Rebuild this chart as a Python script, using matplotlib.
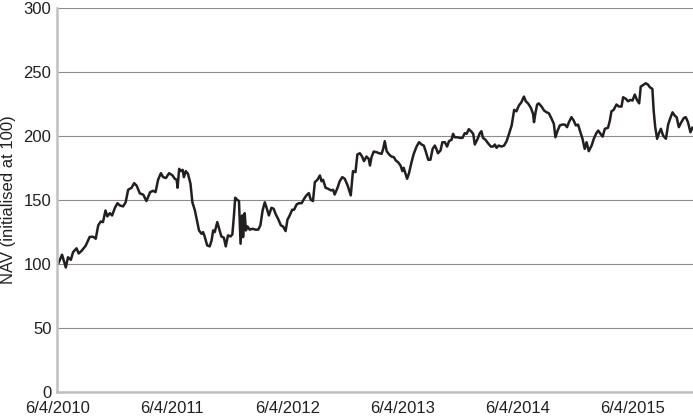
import datetime as dt
import matplotlib.pyplot as plt

# data (days after 6/4/2010, NAV)
start = dt.date(2010, 6, 4)
days = [3, 15, 27, 34, 43, 50, 61, 68, 77, 90, 103, 114, 122, 130, 138, 145, 153, 159, 167, 174,
        183, 191, 199, 209, 217, 225, 236, 244, 252, 262, 273, 283, 295, 304, 312, 320, 329, 336,
        345, 355, 366, 373, 379, 382, 387, 392, 398, 402, 408, 415, 423, 429, 437, 444, 450, 458,
        463, 468, 476, 484, 490, 495, 500, 508, 514, 521, 529, 535, 542, 550, 556, 561, 565, 571,
        577, 582, 587, 590, 595, 599, 604, 611, 620, 630, 638, 645, 652,
        659, 664, 672, 680, 687, 694, 701, 710, 717, 725, 731, 738, 746, 752, 760, 767, 776, 784,
        791, 799, 805, 812, 818, 826, 834, 839, 844, 852, 860, 869, 876, 881, 890, 897, 905, 913,
        922, 932, 939, 947, 953, 961, 968, 974, 982, 989,
        993, 998, 1005, 1014, 1022, 1030, 1035, 1040, 1046, 1054, 1061, 1069, 1075, 1082, 1090,
        1096, 1100, 1106, 1111, 1117, 1125, 1132, 1141, 1149, 1157, 1164, 1170, 1178, 1185, 1192,
        1199, 1204, 1209, 1217, 1223, 1231, 1238, 1244, 1252, 1257, 1262, 1270, 1278, 1287, 1294,
        1300, 1307, 1315, 1321,
        1326, 1335, 1342, 1347, 1352, 1360, 1368, 1377, 1384, 1390, 1395, 1402, 1411, 1419, 1427,
        1434, 1443, 1451, 1458, 1466, 1474, 1482, 1488, 1495, 1504, 1511, 1514, 1519, 1524, 1529,
        1538, 1546, 1554, 1561, 1570, 1577, 1582, 1589, 1596, 1603, 1612, 1619, 1625, 1633, 1640,
        1647, 1654,
        1659, 1668, 1675, 1681, 1688, 1697, 1704, 1712, 1718, 1725, 1732, 1739, 1749, 1755, 1760,
        1767, 1776, 1784, 1792, 1797, 1806, 1813, 1820, 1827, 1834, 1841, 1848, 1853, 1863, 1869,
        1876, 1882, 1890, 1894, 1899, 1905, 1911, 1917, 1924, 1933, 1940, 1948, 1954, 1961, 1967,
        1974, 1982, 1990, 1996, 2003, 2011, 2017]
nav = [100, 107, 97, 105, 103, 109, 112, 108, 110, 114, 121, 121, 119.5, 130, 133, 132.5, 141.6,
       137, 139.5, 137.7, 143.7, 147.3, 145.5, 144.8, 148, 157.8, 159.4, 163, 161, 155, 154, 149,
       156, 157, 156, 165.6, 170.8, 167.7,
       167, 170.8, 169, 166.4, 165.6, 159.4, 174.2, 172.4, 173.4, 167.7, 172.4, 170.3, 162.5, 148,
       141.6, 133.3, 126, 123.4, 124.7, 121.3, 114.3, 113.5, 118.2, 126, 124.7, 132.5, 127.3,
       121.3, 120.3, 113.5, 122.1, 121.3, 122.9, 137.7, 151.6, 150, 149, 115.6, 137.7, 120.8,
       139.5, 126, 129.1, 126.6, 127.3, 126.6, 126.6, 130, 141.6,
       148, 144.2, 137.7, 143.7, 143, 138.5, 135.2, 130, 129.1, 125.5, 134.4, 137.7, 142.2, 142.2,
       146.3, 147.3, 147.3, 150.8, 153.4, 155.2, 150, 149, 163.8, 165.6, 169, 164.5, 165.6, 159.4,
       158.6, 157.3, 157.8, 154.1, 159.4, 164.5, 167.7, 166.4, 161.2, 153.4, 172.4, 171.6, 185.4,
       186.4, 183.8, 180.2, 183.8, 182,
       176.8, 183.3, 187.7, 187.2, 186.4, 185.9, 189.8, 195.8, 188, 185.4, 183.8, 183.3, 180.7,
       179.4, 176.8, 172.4, 175, 170.3, 166.4, 170.8, 179.4, 185.9, 191.6, 195, 193.2, 192.4, 188,
       181.3, 181.3, 189.8, 192.4, 189.8, 186.4, 188.5, 195, 195, 191.6, 195.8, 196.9, 201.6,
       198.9, 198.9, 198.4, 198.4, 202.1, 201.6, 205.2, 203.3, 201.5,
       193.2, 197.7, 202.1, 203.6, 198.4, 196.9, 194.2, 191.6, 191.6, 193.2, 190.6, 192.4, 191.6,
       192.4, 195.8, 201, 208.1, 220.3, 219.2, 223.7, 226.3, 230.7, 227, 225.4, 221.9, 217.2,
       210.7, 218.4, 224.5, 225.4, 222.9, 219.8, 218.4, 217.7, 213.3, 209.4, 198.9, 204.1, 208.1,
       208.8, 208.8, 206.8, 210.7, 214.6, 212, 208.1, 208.8,
       204.7, 197.7, 189.8, 195, 188, 192.4, 197.7, 202.1, 204.1, 201.6, 199.4, 205.5, 206.3, 212,
       219.2, 220.3, 224.5, 222.9, 222.9, 230.2, 228.9, 227, 228.1, 227.6, 232.3, 228.1, 225.4,
       238.5, 240.1, 241.1, 240.1, 238, 236.7, 219.8, 206.8, 197.7, 202.1, 205.5, 200.2, 197.7,
       208.8, 214.6, 218.4, 215.8, 214.6, 206.8, 210.7, 214, 214.6, 210.7, 202.8, 206.3]
tick_labels = ['6/4/2010', '6/4/2011', '6/4/2012', '6/4/2013', '6/4/2014', '6/4/2015']

plt.rcParams['font.family'] = ['Liberation Sans', 'DejaVu Sans']
dates = [start + dt.timedelta(days=d) for d in days]
tick_dates = [dt.datetime.strptime(t, '%m/%d/%Y').date() for t in tick_labels]

fig = plt.figure(figsize=(6.93, 4.18), dpi=100)
ax = fig.add_axes([57 / 693, 1 - 391.5 / 418, 636 / 693, 383.5 / 418])
ax.plot(dates, nav, color='#231f20', lw=1.8)

ax.set_ylim(0, 300)
ax.set_yticks(range(0, 301, 50))
ax.set_xticks(tick_dates)
ax.set_xticklabels(tick_labels)
ax.set_xlim(start - dt.timedelta(days=1), start + dt.timedelta(days=2019))
ax.grid(axis='y', color='#8c8c8c', lw=0.8)
ax.set_axisbelow(True)
for s in ['top', 'right']:
    ax.spines[s].set_visible(False)
for s in ['left', 'bottom']:
    ax.spines[s].set_color('#c0c0c0')
    ax.spines[s].set_linewidth(1.8)
ax.tick_params(axis='both', length=0, labelsize=12, labelcolor='#231f20')
ax.tick_params(axis='x', pad=6.5)
ax.tick_params(axis='y', pad=4)
ax.set_ylabel('NAV (initialised at 100)', fontsize=12, color='#231f20')
ax.yaxis.set_label_coords(-0.064, 0.5)

fig.savefig('out.png', dpi=100)
